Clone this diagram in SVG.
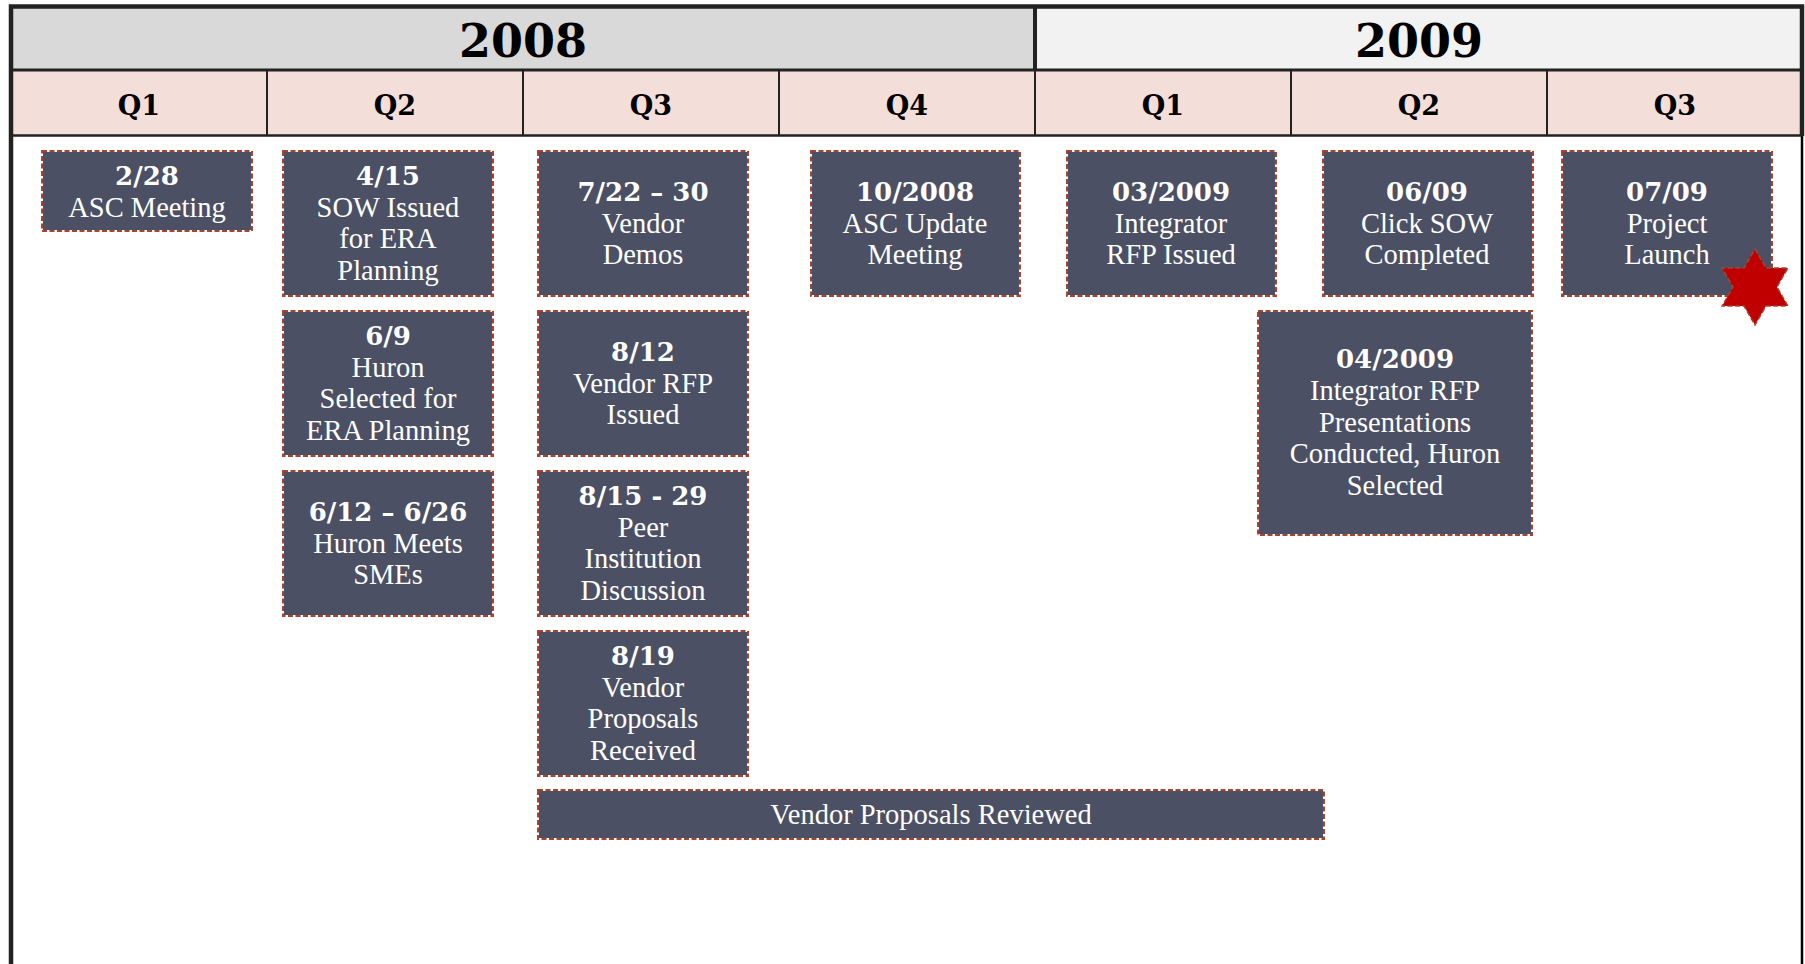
<svg xmlns="http://www.w3.org/2000/svg" width="1805" height="964" viewBox="0 0 1805 964">
<style>
.yr{font-family:"DejaVu Serif",serif;font-weight:bold;font-size:46px;fill:#000;text-anchor:middle}
.q{font-family:"DejaVu Serif",serif;font-weight:bold;font-size:27px;fill:#000;text-anchor:middle}
.bx{fill:#4B5064;stroke:#fff;stroke-width:2}
.bd{fill:none;stroke:#A9432C;stroke-width:2;stroke-dasharray:5 2.5}
.d{font-family:"DejaVu Serif",serif;font-weight:bold;font-size:26px;fill:#fff;text-anchor:middle}
.t{font-family:"Liberation Serif","Times New Roman",serif;font-size:28.5px;fill:#fff;text-anchor:middle}
.grid{stroke:#222;fill:none}
</style>
<rect width="1805" height="964" fill="#fff"/>
<g id="header">
<rect x="11" y="6.5" width="1024" height="63.5" fill="#D9D9D9"/>
<rect x="1035" y="6.5" width="767" height="63.5" fill="#F2F2F2"/>
<rect x="11" y="70" width="1791" height="66" fill="#F4DED9"/>
<text class="yr" x="523" y="57">2008</text>
<text class="yr" x="1419" y="57">2009</text>
<text class="q" x="139" y="115">Q1</text>
<text class="q" x="395" y="115">Q2</text>
<text class="q" x="651" y="115">Q3</text>
<text class="q" x="907" y="115">Q4</text>
<text class="q" x="1163" y="115">Q1</text>
<text class="q" x="1419" y="115">Q2</text>
<text class="q" x="1675" y="115">Q3</text>
<line class="grid" x1="11" y1="70" x2="1802" y2="70" stroke-width="3"/>
<line class="grid" x1="11" y1="135.5" x2="1802" y2="135.5" stroke-width="2.5"/>
<line class="grid" x1="1035" y1="6.5" x2="1035" y2="70" stroke-width="4"/>
<line class="grid" x1="267" y1="70" x2="267" y2="135.5" stroke-width="2"/>
<line class="grid" x1="523" y1="70" x2="523" y2="135.5" stroke-width="2"/>
<line class="grid" x1="779" y1="70" x2="779" y2="135.5" stroke-width="2"/>
<line class="grid" x1="1035" y1="70" x2="1035" y2="135.5" stroke-width="2"/>
<line class="grid" x1="1291" y1="70" x2="1291" y2="135.5" stroke-width="2"/>
<line class="grid" x1="1547" y1="70" x2="1547" y2="135.5" stroke-width="2"/>
</g>
<g id="frame">
<path d="M11,964 V6.5 H1802 V136" class="grid" stroke="#000" stroke-width="4.5"/>
<line x1="1802" y1="136" x2="1802" y2="964" stroke="#000" stroke-width="2.5"/>
</g>
<g id="connectors"></g>
<g id="n1">
<rect class="bx" x="42" y="151" width="210" height="80"/><rect class="bd" x="42" y="151" width="210" height="80"/>
<text class="d" x="147" y="185">2/28</text>
<text class="t" x="147" y="217">ASC Meeting</text>
</g>
<g id="n2">
<rect class="bx" x="283" y="151" width="210" height="145"/><rect class="bd" x="283" y="151" width="210" height="145"/>
<text class="d" x="388" y="185">4/15</text>
<text class="t" x="388" y="217">SOW Issued</text>
<text class="t" x="388" y="248">for ERA</text>
<text class="t" x="388" y="280">Planning</text>
</g>
<g id="n3">
<rect class="bx" x="283" y="311" width="210" height="145"/><rect class="bd" x="283" y="311" width="210" height="145"/>
<text class="d" x="388" y="345">6/9</text>
<text class="t" x="388" y="377">Huron</text>
<text class="t" x="388" y="408">Selected for</text>
<text class="t" x="388" y="440">ERA Planning</text>
</g>
<g id="n4">
<rect class="bx" x="283" y="471" width="210" height="145"/><rect class="bd" x="283" y="471" width="210" height="145"/>
<text class="d" x="388" y="521">6/12 – 6/26</text>
<text class="t" x="388" y="553">Huron Meets</text>
<text class="t" x="388" y="584">SMEs</text>
</g>
<g id="n5">
<rect class="bx" x="538" y="151" width="210" height="145"/><rect class="bd" x="538" y="151" width="210" height="145"/>
<text class="d" x="643" y="201">7/22 – 30</text>
<text class="t" x="643" y="233">Vendor</text>
<text class="t" x="643" y="264">Demos</text>
</g>
<g id="n6">
<rect class="bx" x="538" y="311" width="210" height="145"/><rect class="bd" x="538" y="311" width="210" height="145"/>
<text class="d" x="643" y="361">8/12</text>
<text class="t" x="643" y="393">Vendor RFP</text>
<text class="t" x="643" y="424">Issued</text>
</g>
<g id="n7">
<rect class="bx" x="538" y="471" width="210" height="145"/><rect class="bd" x="538" y="471" width="210" height="145"/>
<text class="d" x="643" y="505">8/15 - 29</text>
<text class="t" x="643" y="537">Peer</text>
<text class="t" x="643" y="568">Institution</text>
<text class="t" x="643" y="600">Discussion</text>
</g>
<g id="n8">
<rect class="bx" x="538" y="631" width="210" height="145"/><rect class="bd" x="538" y="631" width="210" height="145"/>
<text class="d" x="643" y="665">8/19</text>
<text class="t" x="643" y="697">Vendor</text>
<text class="t" x="643" y="728">Proposals</text>
<text class="t" x="643" y="760">Received</text>
</g>
<g id="n9">
<rect class="bx" x="811" y="151" width="209" height="145"/><rect class="bd" x="811" y="151" width="209" height="145"/>
<text class="d" x="915" y="201">10/2008</text>
<text class="t" x="915" y="233">ASC Update</text>
<text class="t" x="915" y="264">Meeting</text>
</g>
<g id="n10">
<rect class="bx" x="1067" y="151" width="209" height="145"/><rect class="bd" x="1067" y="151" width="209" height="145"/>
<text class="d" x="1171" y="201">03/2009</text>
<text class="t" x="1171" y="233">Integrator</text>
<text class="t" x="1171" y="264">RFP Issued</text>
</g>
<g id="n11">
<rect class="bx" x="1323" y="151" width="210" height="145"/><rect class="bd" x="1323" y="151" width="210" height="145"/>
<text class="d" x="1427" y="201">06/09</text>
<text class="t" x="1427" y="233">Click SOW</text>
<text class="t" x="1427" y="264">Completed</text>
</g>
<g id="n12">
<rect class="bx" x="1562" y="151" width="210" height="145"/><rect class="bd" x="1562" y="151" width="210" height="145"/>
<text class="d" x="1667" y="201">07/09</text>
<text class="t" x="1667" y="233">Project</text>
<text class="t" x="1667" y="264">Launch</text>
</g>
<g id="star">
<polygon points="1755,249 1765.97,268 1787.91,268 1776.94,287 1787.91,306 1765.97,306 1755,325 1744.03,306 1722.09,306 1733.06,287 1722.09,268 1744.03,268" fill="#C00000" stroke="#A9432C" stroke-width="1.5" stroke-dasharray="5 2.5"/>
</g>
<g id="n13">
<rect class="bx" x="1258" y="311" width="274" height="224"/><rect class="bd" x="1258" y="311" width="274" height="224"/>
<text class="d" x="1395" y="368">04/2009</text>
<text class="t" x="1395" y="400">Integrator RFP</text>
<text class="t" x="1395" y="432">Presentations</text>
<text class="t" x="1395" y="463">Conducted, Huron</text>
<text class="t" x="1395" y="495">Selected</text>
</g>
<g id="n14">
<rect class="bx" x="538" y="790" width="786" height="49"/><rect class="bd" x="538" y="790" width="786" height="49"/>
<text class="t" x="931" y="824">Vendor Proposals Reviewed</text>
</g>
</svg>
